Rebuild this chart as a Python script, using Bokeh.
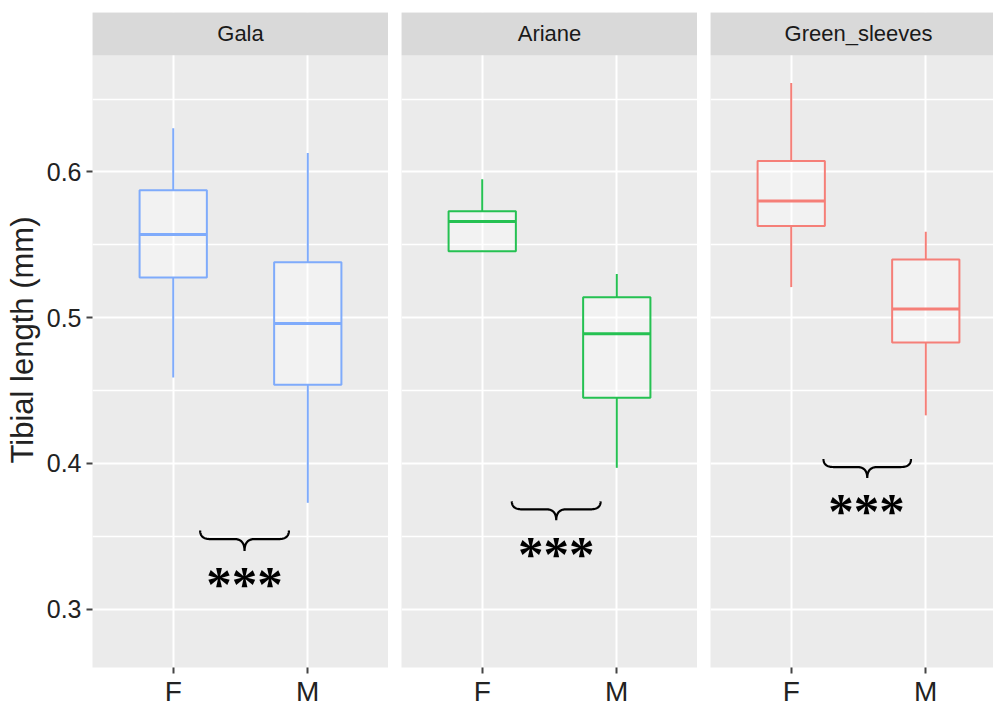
import numpy as np
from bokeh.plotting import figure
from bokeh.layouts import row
from bokeh.models import Range1d, FixedTicker, ColumnDataSource
from bokeh.core.properties import value
from bokeh.embed import file_html
from bokeh.resources import INLINE

# ---------------- data ----------------
cultivars = ["Gala", "Ariane", "Green_sleeves"]
sexes = ["F", "M"]
sex_pos = [1, 2]
colors = ["#7FABFB", "#25C152", "#F57F78"]

whisk_lo = [[0.459, 0.373], [0.546, 0.397], [0.521, 0.433]]
q1       = [[0.5275, 0.454], [0.5456, 0.445], [0.563, 0.483]]
median   = [[0.557, 0.496], [0.566, 0.489], [0.580, 0.506]]
q3       = [[0.5875, 0.538], [0.573, 0.514], [0.6075, 0.540]]
whisk_hi = [[0.630, 0.613], [0.595, 0.530], [0.661, 0.559]]

# significance braces (x from, x to, arm top, tip) and star labels
brace_x0 = [1.20, 1.22, 1.24]
brace_x1 = [1.86, 1.88, 1.89]
brace_top = [0.354, 0.374, 0.403]
brace_tip = [0.340, 0.361, 0.390]
star_x = [1.53, 1.55, 1.56]
star_y = [0.322, 0.343, 0.372]
star_text = "***"

y_ticks = [0.3, 0.4, 0.5, 0.6]
y_minor = [0.35, 0.45, 0.55, 0.65]

# ---------------- layout constants ----------------
Y0, Y_PANEL_TOP = 0.26, 0.68
STRIP = 0.0294
Y1 = Y_PANEL_TOP + STRIP
BOX_W = 0.5
FONT = "Liberation Sans"
H = 709


def brace_path(x0, x1, ytop, ytip):
    ym = ytop - (ytop - ytip) * 0.42
    xc = (x0 + x1) / 2
    rx = 0.075
    t = np.linspace(0, 1, 20)

    def quad(p0, c, p1):
        xs = (1 - t) ** 2 * p0[0] + 2 * (1 - t) * t * c[0] + t ** 2 * p1[0]
        ys = (1 - t) ** 2 * p0[1] + 2 * (1 - t) * t * c[1] + t ** 2 * p1[1]
        return list(xs), list(ys)

    segs = [
        quad((x0, ytop), (x0, ym), (x0 + rx, ym)),
        quad((xc - rx, ym), (xc, ym), (xc, ytip)),
        quad((xc, ytip), (xc, ym), (xc + rx, ym)),
        quad((x1 - rx, ym), (x1, ym), (x1, ytop)),
    ]
    xs, ys = [], []
    for sx, sy in segs:
        xs += sx
        ys += sy
    return xs, ys


def make_panel(i, width, left_border, xmax, show_y):
    p = figure(width=width, height=H, output_backend="svg", toolbar_location=None,
               x_range=Range1d(0.4, xmax), y_range=Range1d(Y0, Y1),
               min_border_left=left_border, min_border_right=0,
               min_border_top=12, min_border_bottom=40)
    p.background_fill_color = "#EBEBEB"
    p.border_fill_color = "white"
    p.outline_line_color = None

    # grid
    p.xgrid.ticker = FixedTicker(ticks=sex_pos)
    p.ygrid.ticker = FixedTicker(ticks=y_ticks, minor_ticks=y_minor)
    for g in (p.xgrid, p.ygrid):
        g.grid_line_color = "white"
        g.grid_line_width = 2
    p.ygrid.minor_grid_line_color = "white"
    p.ygrid.minor_grid_line_width = 1.5

    # axes
    p.xaxis.ticker = FixedTicker(ticks=sex_pos)
    p.xaxis.major_label_overrides = {1: "F", 2: "M"}
    p.xaxis.axis_line_color = None
    p.xaxis.major_tick_line_color = "#444444"
    p.xaxis.major_tick_line_width = 2
    p.xaxis.major_tick_out = 6
    p.xaxis.major_tick_in = 0
    p.xaxis.minor_tick_line_color = None
    p.xaxis.major_label_text_font = FONT
    p.xaxis.major_label_text_font_size = "28px"
    p.xaxis.major_label_text_color = "#222222"
    p.xaxis.major_label_standoff = 2

    if show_y:
        p.yaxis.ticker = FixedTicker(ticks=y_ticks)
        p.yaxis.axis_line_color = None
        p.yaxis.major_tick_line_color = "#444444"
        p.yaxis.major_tick_line_width = 2
        p.yaxis.major_tick_out = 6
        p.yaxis.major_tick_in = 0
        p.yaxis.minor_tick_line_color = None
        p.yaxis.major_label_text_font = FONT
        p.yaxis.major_label_text_font_size = "25px"
        p.yaxis.major_label_text_color = "#222222"
        p.yaxis.major_label_standoff = 5
        p.yaxis.axis_label = "Tibial length (mm)"
        p.yaxis.axis_label_text_font = FONT
        p.yaxis.axis_label_text_font_size = "31px"
        p.yaxis.axis_label_text_font_style = "normal"
        p.yaxis.axis_label_text_color = "#222222"
        p.yaxis.axis_label_standoff = 4
    else:
        p.yaxis.visible = False

    # boxplots
    src = ColumnDataSource(dict(
        x=sex_pos,
        left=[x - BOX_W / 2 for x in sex_pos],
        right=[x + BOX_W / 2 for x in sex_pos],
        lo=whisk_lo[i], q1=q1[i], med=median[i], q3=q3[i], hi=whisk_hi[i],
    ))
    c = colors[i]
    p.segment(x0="x", y0="q3", x1="x", y1="hi", source=src, line_color=c, line_width=2)
    p.segment(x0="x", y0="lo", x1="x", y1="q1", source=src, line_color=c, line_width=2)
    p.quad(left="left", right="right", bottom="q1", top="q3", source=src,
           fill_color="white", fill_alpha=0.35, line_color=c, line_width=2)
    p.segment(x0="left", y0="med", x1="right", y1="med", source=src,
              line_color=c, line_width=3)

    # brace + stars
    bx, by = brace_path(brace_x0[i], brace_x1[i], brace_top[i], brace_tip[i])
    p.line(bx, by, line_color="black", line_width=2.2)
    p.text(x=[star_x[i]], y=[star_y[i]], text=[star_text],
           text_font=value("Liberation Serif"), text_font_style="bold",
           text_font_size="51px", text_align="center", text_baseline="middle",
           text_color="black", y_offset=7)

    # facet strip
    p.quad(left=[0.4], right=[2.6], bottom=[Y_PANEL_TOP], top=[Y1],
           fill_color="#D9D9D9", line_color=None)
    p.text(x=[1.5], y=[(Y_PANEL_TOP + Y1) / 2], text=[cultivars[i]],
           text_font=value(FONT), text_font_size="22px", text_align="center",
           text_baseline="middle", text_color="#1A1A1A")
    return p


p1 = make_panel(0, 388, 92, 2.6, True)
p2 = make_panel(1, 309, 13, 2.6, False)
p3 = make_panel(2, 296, 13, 0.4 + 2.2 * 283 / 296, False)

layout = row(p1, p2, p3)
open("out.html", "w").write(file_html(layout, INLINE))
